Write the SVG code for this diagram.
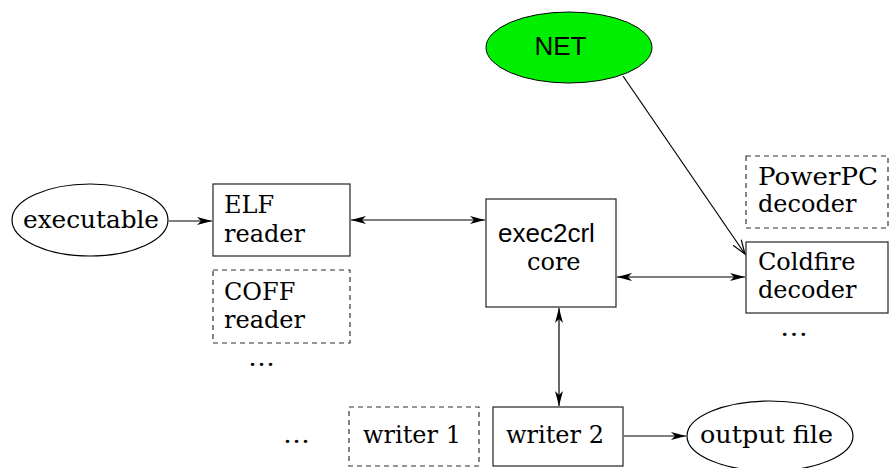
<svg xmlns="http://www.w3.org/2000/svg" width="895" height="468" viewBox="0 0 895 468">
<style>
.serif{font-family:"DejaVu Serif","Liberation Serif",serif;font-size:24px;fill:#000}
.sans{font-family:"Liberation Sans",Arial,sans-serif;font-size:26px;fill:#000}
.box{fill:#fff;stroke:#222;stroke-width:1.2}
.dash{fill:none;stroke:#333;stroke-width:1.2;stroke-dasharray:5,4}
.edge{stroke:#000;stroke-width:1.2;fill:none}
</style>
<defs>
<marker id="ah" markerWidth="16" markerHeight="10" refX="15" refY="5" orient="auto-start-reverse" markerUnits="userSpaceOnUse">
<path d="M0,1 L15,5 L0,9 L4,5 z" fill="#000"/>
</marker>
<marker id="open" markerWidth="16" markerHeight="12" refX="14" refY="6" orient="auto" markerUnits="userSpaceOnUse">
<path d="M0,1 L14,6 L0,11" fill="none" stroke="#000" stroke-width="1.2"/>
</marker>
</defs>
<g id="connectors">
<line class="edge" x1="169" y1="221" x2="212" y2="221" marker-end="url(#ah)"/>
<line class="edge" x1="351" y1="220" x2="485" y2="220" marker-start="url(#ah)" marker-end="url(#ah)"/>
<line class="edge" x1="617" y1="277" x2="745" y2="277" marker-start="url(#ah)" marker-end="url(#ah)"/>
<line class="edge" x1="559" y1="308" x2="559" y2="406" marker-start="url(#ah)" marker-end="url(#ah)"/>
<line class="edge" x1="624" y1="436" x2="686" y2="436" marker-end="url(#ah)"/>
<line class="edge" x1="623" y1="76" x2="745" y2="254" marker-end="url(#open)"/>
</g>
<g id="executable">
<ellipse cx="90" cy="220" rx="78" ry="36" fill="#fff" stroke="#000" stroke-width="1.2"/>
<text class="serif" x="23" y="228" textLength="136" lengthAdjust="spacingAndGlyphs">executable</text>
</g>
<g id="elf">
<rect class="box" x="213" y="184" width="137" height="72"/>
<text class="serif" x="224" y="213">ELF</text>
<text class="serif" x="224" y="242">reader</text>
</g>
<g id="coff">
<rect class="dash" x="213" y="270" width="137" height="73"/>
<text class="serif" x="224" y="300">COFF</text>
<text class="serif" x="224" y="328">reader</text>
<text class="serif" x="248" y="366" textLength="27" lengthAdjust="spacingAndGlyphs">…</text>
</g>
<g id="net">
<ellipse cx="569" cy="47.5" rx="83" ry="35.5" fill="#00ee00" stroke="#000" stroke-width="1"/>
<text class="sans" x="560.5" y="55" text-anchor="middle">NET</text>
</g>
<g id="core">
<rect class="box" x="486" y="199" width="130" height="108"/>
<text class="sans" x="498" y="242">exec2crl</text>
<text class="serif" x="527" y="270">core</text>
</g>
<g id="powerpc">
<rect class="dash" x="746" y="156" width="142" height="72"/>
<text class="serif" x="758" y="185" textLength="120" lengthAdjust="spacingAndGlyphs">PowerPC</text>
<text class="serif" x="758" y="212">decoder</text>
</g>
<g id="coldfire">
<rect class="box" x="746" y="242" width="142" height="71"/>
<text class="serif" x="758" y="270">Coldfire</text>
<text class="serif" x="758" y="298">decoder</text>
<text class="serif" x="780" y="336" textLength="28" lengthAdjust="spacingAndGlyphs">…</text>
</g>
<g id="writer-dots">
<text class="serif" x="283" y="443" textLength="27" lengthAdjust="spacingAndGlyphs">…</text>
</g>
<g id="writer1">
<rect class="dash" x="349" y="407" width="130" height="59"/>
<text class="serif" x="363" y="443">writer 1</text>
</g>
<g id="writer2">
<rect class="box" x="493" y="407" width="130" height="59"/>
<text class="serif" x="506" y="443">writer 2</text>
</g>
<g id="output">
<ellipse cx="770" cy="436" rx="83" ry="35" fill="#fff" stroke="#000" stroke-width="1.2"/>
<text class="serif" x="700" y="443" textLength="133" lengthAdjust="spacingAndGlyphs">output file</text>
</g>
</svg>
